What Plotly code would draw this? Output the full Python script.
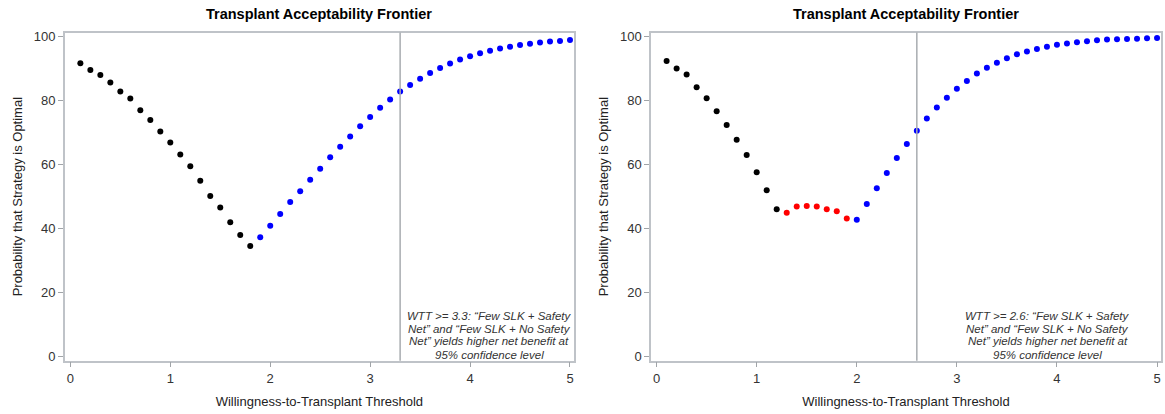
import plotly.graph_objects as go
from plotly.subplots import make_subplots

# ---- data ----
x_left_black = [0.1, 0.2, 0.3, 0.4, 0.5, 0.6, 0.7, 0.8, 0.9, 1.0, 1.1, 1.2, 1.3, 1.4, 1.5, 1.6, 1.7, 1.8]
y_left_black = [91.7, 89.6, 88.0, 85.7, 82.9, 80.7, 77.0, 74.0, 70.4, 66.9, 63.2, 59.5, 55.0, 50.2, 46.6, 42.0, 38.0, 34.6]
x_left_blue = [1.9, 2.0, 2.1, 2.2, 2.3, 2.4, 2.5, 2.6, 2.7, 2.8, 2.9, 3.0, 3.1, 3.2, 3.3, 3.4, 3.5, 3.6, 3.7, 3.8,
               3.9, 4.0, 4.1, 4.2, 4.3, 4.4, 4.5, 4.6, 4.7, 4.8, 4.9, 5.0]
y_left_blue = [37.3, 40.9, 44.6, 48.3, 51.7, 55.3, 58.7, 62.3, 65.6, 68.8, 72.0, 74.9, 77.8, 80.4, 82.9, 84.9,
               86.9, 88.7, 90.2, 91.6, 92.9, 93.9, 94.8, 95.6, 96.3, 96.9, 97.4, 97.8, 98.2, 98.5, 98.7, 99.0]

x_right_black = [0.1, 0.2, 0.3, 0.4, 0.5, 0.6, 0.7, 0.8, 0.9, 1.0, 1.1, 1.2]
y_right_black = [92.4, 90.1, 88.2, 84.2, 80.8, 76.7, 72.4, 67.8, 63.0, 57.6, 52.0, 46.1]
x_right_red = [1.3, 1.4, 1.5, 1.6, 1.7, 1.8, 1.9]
y_right_red = [45.0, 46.9, 47.1, 46.9, 46.1, 45.4, 43.2]
x_right_blue = [2.0, 2.1, 2.2, 2.3, 2.4, 2.5, 2.6, 2.7, 2.8, 2.9, 3.0, 3.1, 3.2, 3.3, 3.4, 3.5, 3.6, 3.7, 3.8,
                3.9, 4.0, 4.1, 4.2, 4.3, 4.4, 4.5, 4.6, 4.7, 4.8, 4.9, 5.0]
y_right_blue = [42.8, 47.7, 52.6, 57.4, 62.1, 66.5, 70.6, 74.4, 77.9, 80.9, 83.7, 86.2, 88.5, 90.3, 91.9, 93.3,
                94.5, 95.4, 96.2, 96.9, 97.5, 97.9, 98.3, 98.6, 98.9, 99.1, 99.2, 99.3, 99.4, 99.5, 99.6]

thresholds = [3.3, 2.6]
note_lines = [
    ["WTT >= 3.3: \u201cFew SLK + Safety", "Net\u201d and \u201cFew SLK + No Safety",
     "Net\u201d yields higher net benefit at", "95% confidence level"],
    ["WTT >= 2.6: \u201cFew SLK + Safety", "Net\u201d and \u201cFew SLK + No Safety",
     "Net\u201d yields higher net benefit at", "95% confidence level"],
]
note_x = [4.19, 3.91]
note_line_y = [12.6, 8.6, 4.8, 0.6]
title = "Transplant Acceptability Frontier"
x_title = "Willingness-to-Transplant Threshold"
y_title = "Probability that Strategy is Optimal"
x_ticks = [0, 1, 2, 3, 4, 5]
y_ticks = [0, 20, 40, 60, 80, 100]

FONT = "Arial, Liberation Sans, sans-serif"
MS = 6

fig = make_subplots(rows=1, cols=2)

def add(x, y, color, col):
    fig.add_trace(go.Scatter(x=x, y=y, mode="markers",
                             marker=dict(color=color, size=MS, line=dict(width=0)),
                             showlegend=False), row=1, col=col)

add(x_left_black, y_left_black, "#000000", 1)
add(x_left_blue, y_left_blue, "#0000ff", 1)
add(x_right_black, y_right_black, "#000000", 2)
add(x_right_red, y_right_red, "#ff0000", 2)
add(x_right_blue, y_right_blue, "#0000ff", 2)

domains_x = [[0.0556, 0.4927], [0.5588, 0.9966]]
ydom = [0.1232, 0.9275]

axis_common = dict(showgrid=False, zeroline=False, showline=True, mirror=True,
                   linecolor="#bfc3c8", linewidth=1.5, ticks="outside", ticklen=5,
                   tickcolor="#a0a4a8", tickfont=dict(family=FONT, size=13, color="#333333"))

for i, col in enumerate([1, 2]):
    xa = "xaxis" if i == 0 else "xaxis2"
    ya = "yaxis" if i == 0 else "yaxis2"
    fig.update_layout({
        xa: dict(domain=domains_x[i], range=[-0.056, 5.04], tickvals=x_ticks,
                 title=dict(text=x_title, font=dict(family=FONT, size=13, color="#222222"), standoff=12),
                 **axis_common),
        ya: dict(domain=ydom, range=[-1.3, 101.3], tickvals=y_ticks,
                 title=dict(text=y_title, font=dict(family=FONT, size=13, color="#222222"), standoff=8),
                 **axis_common),
    })
    xref = "x" if i == 0 else "x2"
    yref = "y" if i == 0 else "y2"
    fig.add_shape(type="line", xref=xref, yref="paper", x0=thresholds[i], x1=thresholds[i],
                  y0=ydom[0], y1=ydom[1], line=dict(color="#a8acb0", width=1.5))
    for line, ly in zip(note_lines[i], note_line_y):
        fig.add_annotation(xref=xref, yref=yref, x=note_x[i], y=ly, xanchor="center", yanchor="middle",
                           text="<i>" + line + "</i>", showarrow=False, align="center",
                           font=dict(family=FONT, size=11.5, color="#333333"))
    fig.add_annotation(xref="paper", yref="paper", x=(domains_x[i][0] + domains_x[i][1]) / 2,
                       xanchor="center", y=0.972, yanchor="middle", text="<b>" + title + "</b>",
                       showarrow=False, font=dict(family=FONT, size=14.5, color="#000000"))

fig.update_layout(width=1165, height=414, margin=dict(l=0, r=0, t=0, b=0),
                  plot_bgcolor="white", paper_bgcolor="white")

fig.write_html("out.html")
